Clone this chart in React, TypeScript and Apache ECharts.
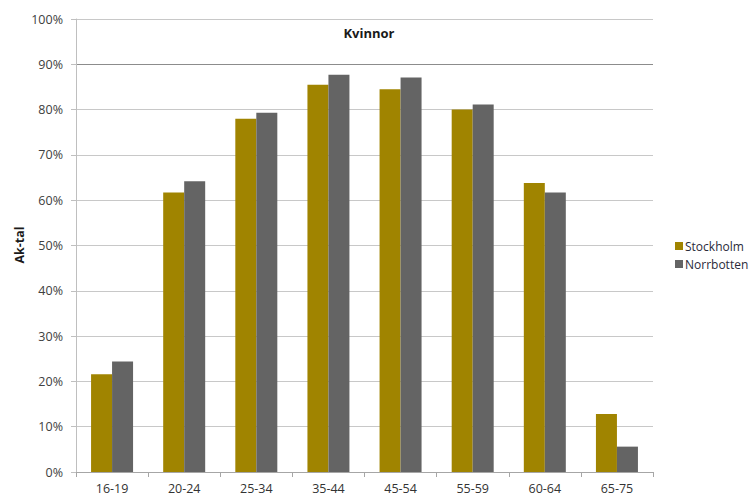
import React, { useEffect, useRef } from "react";
import * as echarts from "echarts";

// Age groups on the category axis
const ageGroups = ["16-19", "20-24", "25-34", "35-44", "45-54", "55-59", "60-64", "65-75"];

// Employment rate (Ak-tal) for women, percent
const stockholm = [21.6, 61.7, 78.0, 85.5, 84.5, 80.0, 63.8, 12.8];
const norrbotten = [24.4, 64.2, 79.3, 87.7, 87.1, 81.1, 61.7, 5.6];

const seriesNames = ["Stockholm", "Norrbotten"];
const chartTitle = "Kvinnor";
const yAxisTitle = "Ak-tal";

const FONT = "'Open Sans', 'Liberation Sans', sans-serif";

export default function App() {
  const ref = useRef<HTMLDivElement>(null);

  useEffect(() => {
    if (!ref.current) return;
    const chart = echarts.init(ref.current, null, { renderer: "svg" });

    // one colour per horizontal grid line (0% .. 100%), the 90% line is darker
    const gridColors = ["#c8c8c8", "#c8c8c8", "#c8c8c8", "#c8c8c8", "#c8c8c8", "#c8c8c8",
      "#c8c8c8", "#c8c8c8", "#c8c8c8", "#8c8c8c", "#c8c8c8"];

    chart.setOption({
      animation: false,
      backgroundColor: "#ffffff",
      textStyle: { fontFamily: FONT },
      grid: { left: 76, top: 19, width: 577, height: 453, containLabel: false },
      title: {
        text: chartTitle,
        left: 364,
        top: 21,
        textAlign: "center",
        textStyle: { fontFamily: FONT, fontSize: 13, fontWeight: "bold", color: "#1a1a1a" },
      },
      legend: {
        orient: "vertical",
        left: 670,
        top: 235,
        itemWidth: 8,
        itemHeight: 8,
        itemGap: 6,
        icon: "rect",
        data: seriesNames,
        textStyle: { fontFamily: FONT, fontSize: 12, color: "#2a2a3a", padding: [0, 0, 0, -3] },
      },
      xAxis: {
        type: "category",
        data: ageGroups,
        axisLine: { lineStyle: { color: "#a6a6a6", width: 1 } },
        axisTick: { show: true, length: 5, lineStyle: { color: "#a6a6a6" } },
        axisLabel: { fontFamily: FONT, fontSize: 12.5, color: "#333333", margin: 10 },
        splitLine: { show: false },
      },
      yAxis: {
        type: "value",
        min: 0,
        max: 100,
        interval: 10,
        axisLine: { show: true, lineStyle: { color: "#bfbfbf", width: 1 } },
        axisTick: { show: true, length: 5, lineStyle: { color: "#bfbfbf" } },
        axisLabel: {
          fontFamily: FONT,
          fontSize: 12.5,
          color: "#404040",
          margin: 13,
          formatter: (v: number) => v + "%",
        },
        splitLine: { show: true, lineStyle: { color: gridColors, width: 1 } },
      },
      graphic: [
        {
          type: "text",
          x: 19,
          y: 245,
          rotation: Math.PI / 2,
          style: {
            text: yAxisTitle,
            font: "bold 12.5px " + FONT,
            fill: "#1a1a1a",
            textAlign: "center",
            textVerticalAlign: "middle",
          },
        },
      ],
      series: [
        {
          name: seriesNames[0],
          type: "bar",
          data: stockholm,
          barWidth: 21,
          barGap: "0%",
          itemStyle: { color: "#a08400" },
        },
        {
          name: seriesNames[1],
          type: "bar",
          data: norrbotten,
          barWidth: 21,
          barGap: "0%",
          itemStyle: { color: "#646464" },
        },
      ],
    });

    return () => chart.dispose();
  }, []);

  return (
    <div
      ref={ref}
      style={{ position: "fixed", left: 0, top: 0, width: 750, height: 497 }}
    />
  );
}
